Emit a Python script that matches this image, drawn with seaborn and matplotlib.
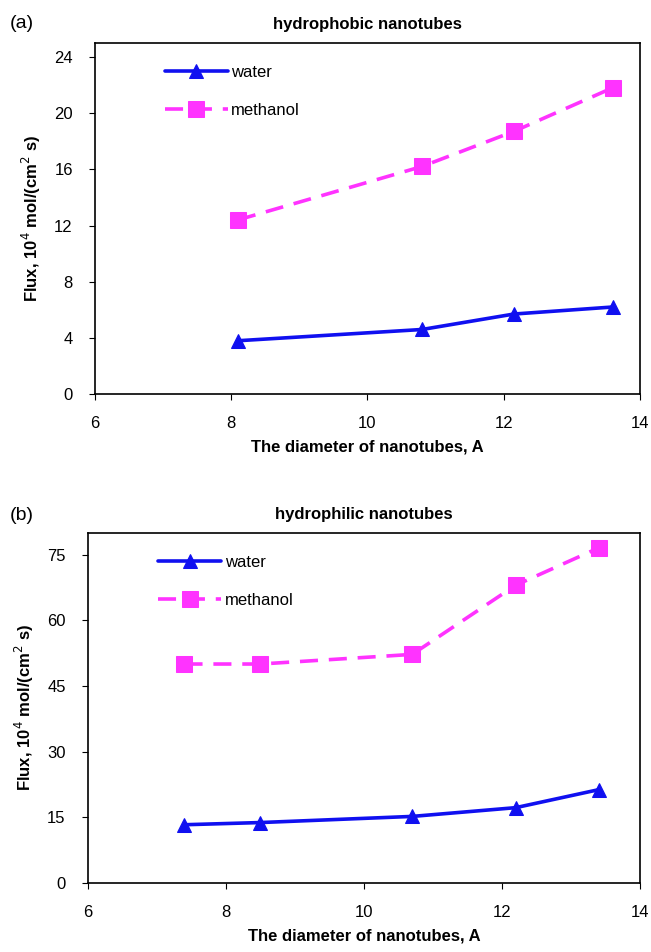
import pandas as pd
import matplotlib
matplotlib.use("Agg")
import matplotlib.pyplot as plt
import seaborn as sns

# --- data ---
d_a = [8.1, 10.8, 12.15, 13.6]
water_a = [3.8, 4.6, 5.7, 6.2]
methanol_a = [12.4, 16.2, 18.7, 21.8]

d_b = [7.4, 8.5, 10.7, 12.2, 13.4]
water_b = [13.3, 13.8, 15.2, 17.2, 21.3]
methanol_b = [50.0, 50.0, 52.2, 68.0, 76.5]

sns.set_style("ticks")
plt.rcParams["font.family"] = ["Liberation Sans", "DejaVu Sans"]
plt.rcParams["text.color"] = "black"
plt.rcParams["axes.labelcolor"] = "black"
plt.rcParams["xtick.color"] = "black"
plt.rcParams["ytick.color"] = "black"

fig = plt.figure(figsize=(6.51, 9.52), dpi=100)
ax_a = fig.add_axes([0.146, 0.586, 0.837, 0.369])
ax_b = fig.add_axes([0.135, 0.0725, 0.848, 0.368])

blue = "#1010f0"
pink = "#ff33ff"


def draw(ax, x, w, m, title, yticks, ylim):
    df = pd.DataFrame({"x": list(x) * 2, "y": list(w) + list(m),
                       "s": ["water"] * len(x) + ["methanol"] * len(x)})
    sns.lineplot(data=df[df.s == "water"], x="x", y="y", ax=ax, color=blue,
                 marker="^", markersize=10, lw=2.6, label="water", mec=blue)
    sns.lineplot(data=df[df.s == "methanol"], x="x", y="y", ax=ax, color=pink,
                 marker="s", markersize=11, lw=2.6, dashes=(5, 3), label="methanol", mec=pink)
    ax.set_xlim(6, 14)
    ax.set_ylim(*ylim)
    ax.set_xticks([6, 8, 10, 12, 14])
    ax.set_yticks(yticks)
    ax.tick_params(labelsize=12, direction="out", length=4, pad=12)
    ax.set_xlabel("The diameter of nanotubes, A", fontsize=12, fontweight="bold", labelpad=6)
    ax.set_ylabel("Flux, 10$^{4}$ mol/(cm$^{2}$ s)", fontsize=12, fontweight="bold", labelpad=8)
    ax.set_title(title, fontsize=12, fontweight="bold", pad=10)
    ax.legend(loc="upper left", bbox_to_anchor=(0.1, 0.98), frameon=False,
              fontsize=12, handlelength=3.8, handletextpad=0.2, labelspacing=1.4)
    for sp in ax.spines.values():
        sp.set_color("black")
        sp.set_linewidth(1.2)


draw(ax_a, d_a, water_a, methanol_a, "hydrophobic nanotubes",
     [0, 4, 8, 12, 16, 20, 24], (0, 25))
draw(ax_b, d_b, water_b, methanol_b, "hydrophilic nanotubes",
     [0, 15, 30, 45, 60, 75], (0, 80))

fig.text(0.015, 0.975, "(a)", fontsize=14, va="center")
fig.text(0.015, 0.458, "(b)", fontsize=14, va="center")

fig.savefig("out.png", dpi=100)
